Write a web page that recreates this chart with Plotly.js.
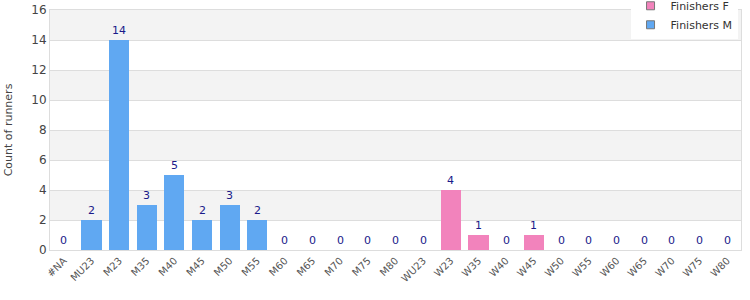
<!DOCTYPE html>
<html><head><meta charset="utf-8">
<script src="https://cdn.plot.ly/plotly-3.0.1.min.js"></script>
<style>html,body{margin:0;padding:0;background:#fff}#c{width:750px;height:300px}</style>
</head><body><div id="c"></div>
<script>
var categories = ["#NA","MU23","M23","M35","M40","M45","M50","M55","M60","M65","M70","M75","M80","WU23","W23","W35","W40","W45","W50","W55","W60","W65","W70","W75","W80"];
var finishersM = [0,2,14,3,5,2,3,2,0,0,0,0,0,0,0,0,0,0,0,0,0,0,0,0,0];
var finishersF = [0,0,0,0,0,0,0,0,0,0,0,0,0,0,4,1,0,1,0,0,0,0,0,0,0];
var yTicks = [0,2,4,6,8,10,12,14,16];
var colorF = '#f283bc', colorM = '#60a8f2';

var totals = categories.map(function(c,i){return finishersM[i]+finishersF[i];});
var annotations = categories.map(function(c,i){
  return {x:c, y:totals[i], xref:'x', yref:'y', text:String(totals[i]), showarrow:false,
          yanchor:'bottom', yshift:1, font:{family:'DejaVu Sans', size:11, color:'#1a1a8a'}};
});
var shapes = [];
for (var k=0;k<yTicks.length-1;k++){
  if (k%2===1) shapes.push({type:'rect', xref:'paper', yref:'y', x0:0, x1:1, y0:yTicks[k], y1:yTicks[k+1], fillcolor:'#f3f3f3', line:{width:0}, layer:'below'});
}
var data = [
  {type:'bar', name:'Finishers F', x:categories, y:finishersF, marker:{color:colorF}, showlegend:false},
  {type:'bar', name:'Finishers M', x:categories, y:finishersM, marker:{color:colorM}, showlegend:false},
  {type:'scatter', mode:'markers', name:'Finishers F', x:[null], y:[null], marker:{symbol:'square', size:8, color:colorF, line:{color:'#777', width:1}}},
  {type:'scatter', mode:'markers', name:'Finishers M', x:[null], y:[null], marker:{symbol:'square', size:8, color:colorM, line:{color:'#777', width:1}}}
];
var layout = {
  width:750, height:300, margin:{l:50, r:9, t:10, b:50, autoexpand:false},
  paper_bgcolor:'#fff', plot_bgcolor:'#fff',
  barmode:'stack', bargap:0.27,
  font:{family:'DejaVu Sans', size:11, color:'#444'},
  showlegend:true,
  legend:{x:0.995, xanchor:'right', y:1.078, yanchor:'top', bgcolor:'#fff', borderwidth:0,
          font:{family:'DejaVu Sans', size:11, color:'#333'}, traceorder:'normal', itemwidth:30, tracegroupgap:0},
  xaxis:{type:'category', tickangle:-45, tickfont:{size:10, color:'#555'}, showline:true, linecolor:'#ddd', mirror:true,
         ticks:'', showgrid:false, fixedrange:true},
  yaxis:{range:[0,16], tickvals:yTicks, showgrid:true, gridcolor:'#ddd', zeroline:false, showline:true, linecolor:'#ddd', mirror:true,
         tickfont:{size:12, color:'#444'}, title:{text:'Count of runners', font:{size:11, color:'#444'}, standoff:16}, fixedrange:true},
  shapes:shapes, annotations:annotations
};
Plotly.newPlot('c', data, layout, {displayModeBar:false, staticPlot:true});
</script></body></html>
